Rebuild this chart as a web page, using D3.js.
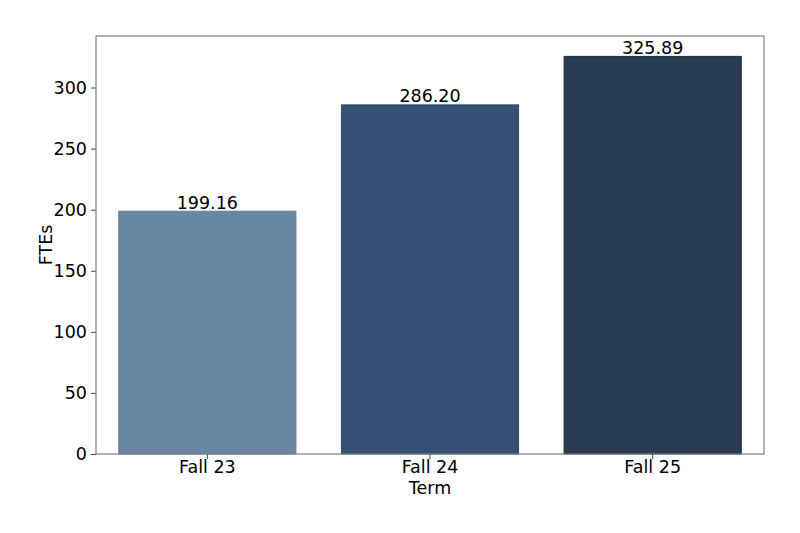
<!DOCTYPE html>
<html><head><meta charset="utf-8">
<script src="https://cdn.jsdelivr.net/npm/d3@7"></script>
<style>body{margin:0;background:#fff}svg{display:block}text{font-family:"DejaVu Sans",sans-serif}</style>
</head><body>
<script>
const categories = ["Fall 23", "Fall 24", "Fall 25"];
const values = [199.16, 286.20, 325.89];
const labels = ["199.16", "286.20", "325.89"];
const colors = ["#6787a3", "#345175", "#283b54"];
const edges = ["#5f7e99", "#2e4868", "#1c2a3b"];
const yTicks = [0, 50, 100, 150, 200, 250, 300];

const W = 800, H = 533;
const FS = 17.5;
const m = {left: 96, right: 36, top: 36, bottom: 79};
const svg = d3.select("body").append("svg").attr("width", W).attr("height", H);
const iw = W - m.left - m.right, ih = H - m.top - m.bottom;
const g = svg.append("g").attr("transform", `translate(${m.left},${m.top})`);

const x = d3.scaleBand().domain(categories).range([0, iw]).paddingInner(0.2).paddingOuter(0.1);
const y = d3.scaleLinear().domain([0, d3.max(values) * 1.05]).range([ih, 0]);

g.selectAll("rect.bar").data(values).enter().append("rect")
  .attr("x", (d, i) => x(categories[i]) + 0.5)
  .attr("y", d => y(d) + 0.5)
  .attr("width", x.bandwidth() - 1)
  .attr("height", d => ih - y(d) - 0.5)
  .attr("fill", (d, i) => colors[i])
  .attr("stroke", (d, i) => edges[i]).attr("stroke-width", 1);

g.selectAll("text.val").data(values).enter().append("text")
  .attr("x", (d, i) => x(categories[i]) + x.bandwidth() / 2)
  .attr("y", d => y(d) - 2)
  .attr("text-anchor", "middle").attr("font-size", FS).attr("fill", "#000")
  .text((d, i) => labels[i]);

const ya = g.append("g").call(d3.axisLeft(y).tickValues(yTicks).tickSize(5).tickPadding(4));
ya.selectAll("text").attr("font-size", FS).attr("fill", "#000").style("font-family", "DejaVu Sans");
ya.selectAll("line").attr("stroke", "#444");
ya.select(".domain").remove();

const xa = g.append("g").attr("transform", `translate(0,${ih})`).call(d3.axisBottom(x).tickSize(5).tickPadding(2));
xa.selectAll("text").attr("font-size", FS).attr("fill", "#000").style("font-family", "DejaVu Sans");
xa.selectAll("line").attr("stroke", "#444");
xa.select(".domain").remove();

g.append("rect").attr("x", 0).attr("y", 0).attr("width", iw).attr("height", ih)
  .attr("fill", "none").attr("stroke", "#7f7f7f").attr("stroke-width", 1.2);

svg.append("text").attr("x", m.left + iw / 2).attr("y", 494).attr("text-anchor", "middle")
  .attr("font-size", FS).text("Term");
svg.append("text").attr("transform", `translate(52,${m.top + ih / 2}) rotate(-90)`)
  .attr("text-anchor", "middle").attr("font-size", FS).text("FTEs");
</script>
</body></html>
